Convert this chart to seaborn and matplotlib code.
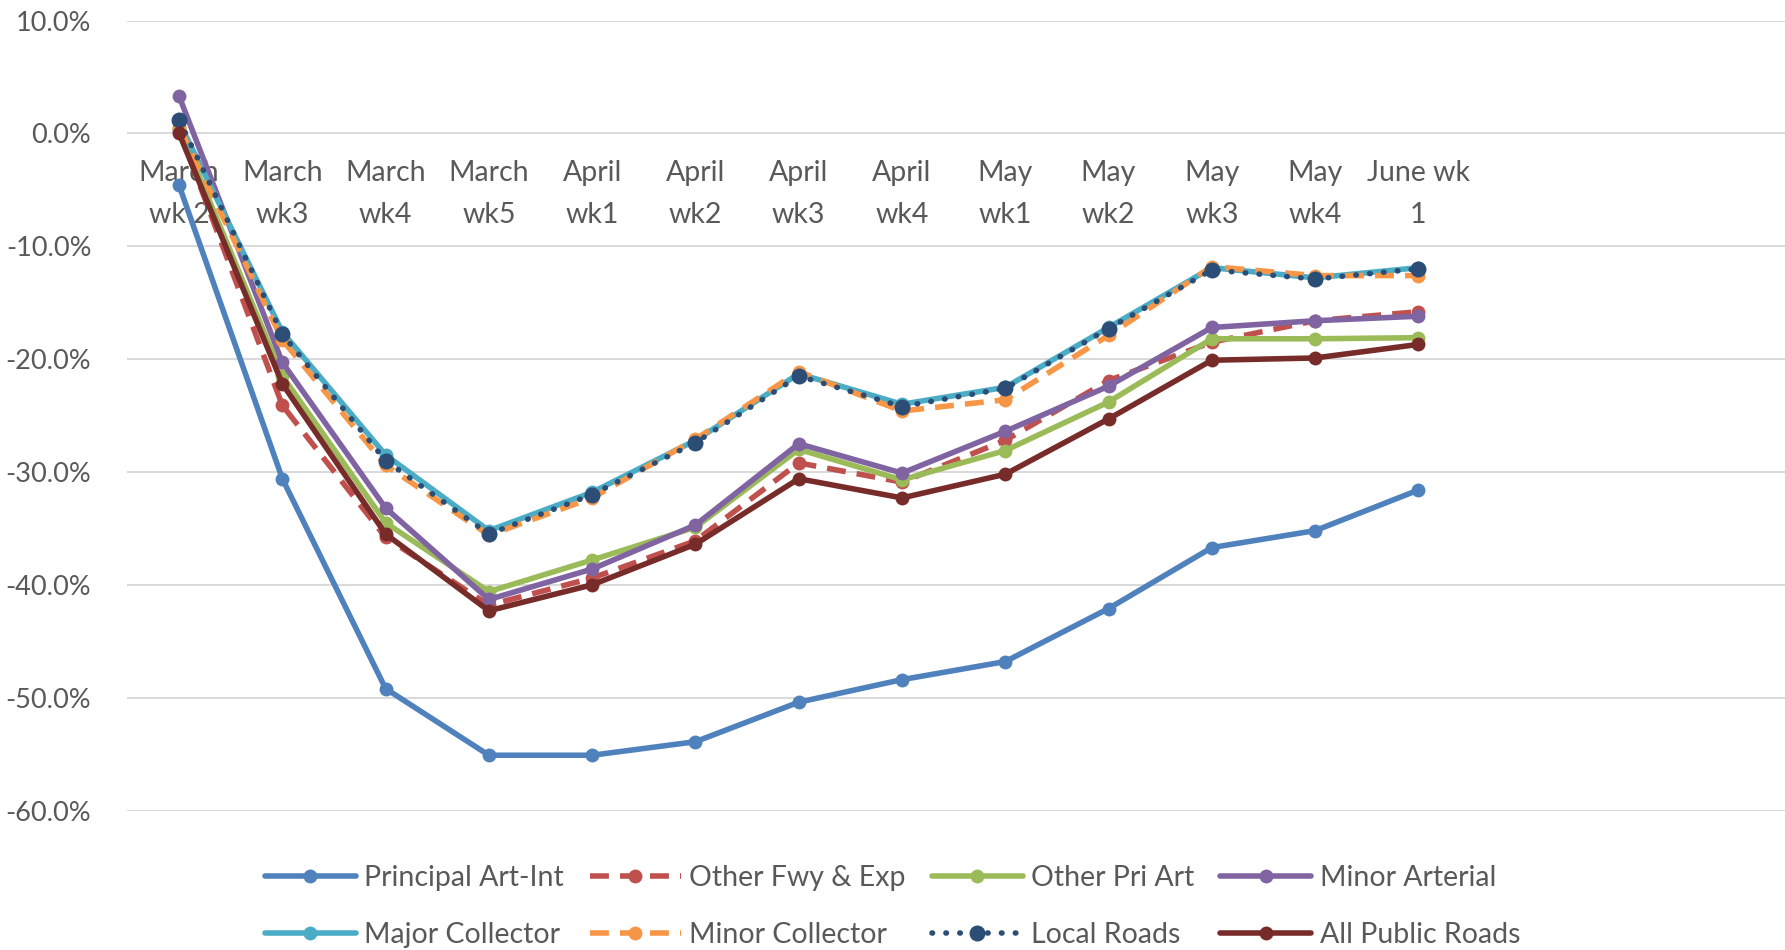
import numpy as np
import pandas as pd
import seaborn as sns
import matplotlib
matplotlib.use("Agg")
import matplotlib.pyplot as plt

# Week labels (category axis)
weeks = ["March\nwk 2", "March\nwk3", "March\nwk4", "March\nwk5",
         "April\nwk1", "April\nwk2", "April\nwk3", "April\nwk4",
         "May\nwk1", "May\nwk2", "May\nwk3", "May\nwk4", "June wk\n1"]

# Percent change in travel by road class
principal_art_int = [-4.6, -30.6, -49.2, -55.1, -55.1, -53.9, -50.4, -48.4, -46.8, -42.1, -36.7, -35.2, -31.6]
other_fwy_exp = [0.3, -24.1, -35.8, -41.8, -39.4, -36.1, -29.2, -30.9, -27.2, -21.9, -18.5, -16.6, -15.8]
other_pri_art = [0.5, -21.5, -34.5, -40.6, -37.8, -34.9, -28.0, -30.7, -28.1, -23.8, -18.2, -18.2, -18.1]
minor_arterial = [3.3, -20.3, -33.2, -41.3, -38.6, -34.7, -27.5, -30.1, -26.4, -22.4, -17.2, -16.6, -16.2]
major_collector = [1.0, -17.6, -28.5, -35.2, -31.8, -27.2, -21.3, -24.0, -22.5, -17.2, -11.9, -12.8, -11.9]
minor_collector = [0.6, -18.3, -29.4, -35.6, -32.3, -27.1, -21.1, -24.6, -23.6, -17.9, -11.8, -12.6, -12.6]
local_roads = [1.2, -17.8, -29.0, -35.5, -32.0, -27.4, -21.5, -24.2, -22.6, -17.3, -12.1, -12.9, -12.0]
all_public_roads = [0.0, -22.2, -35.5, -42.3, -40.0, -36.4, -30.6, -32.3, -30.2, -25.3, -20.1, -19.9, -18.7]

y_ticks = [10, 0, -10, -20, -30, -40, -50, -60]
y_tick_labels = ["10.0%", "0.0%", "-10.0%", "-20.0%", "-30.0%", "-40.0%", "-50.0%", "-60.0%"]

sns.set_theme(style="white")
plt.rcParams["font.family"] = ["Lato", "DejaVu Sans"]

dash = (0, (3.4, 2.0))
series = [
    ("Principal Art-Int", principal_art_int, "#4F81BD", "-", 10),
    ("Other Fwy & Exp", other_fwy_exp, "#C0504D", dash, 10),
    ("Other Pri Art", other_pri_art, "#9BBB59", "-", 10),
    ("Minor Arterial", minor_arterial, "#8064A2", "-", 10),
    ("Major Collector", major_collector, "#4BACC6", "-", 10),
    ("Minor Collector", minor_collector, "#F79646", dash, 10),
    ("Local Roads", local_roads, "#2C4D75", (0, (0.1, 2.4)), 11.5),
    ("All Public Roads", all_public_roads, "#772C2A", "-", 10),
]

fig = plt.figure(figsize=(17.85, 9.5), dpi=100)
ax = fig.add_axes([0.0714, 0.1468, 0.9286, 0.8316])

xs = np.arange(len(weeks))
handles = {}
for name, vals, color, ls, ms in series:
    df = pd.DataFrame({"x": xs, "y": vals})
    sns.lineplot(data=df, x="x", y="y", ax=ax, color=color, linewidth=4.0,
                 marker="o", markersize=ms, markeredgewidth=0, label=name)
    line = ax.get_lines()[-1]
    line.set_linestyle(ls)
    if name == "Local Roads":
        line.set_dash_capstyle("round")
    handles[name] = line

ax.set_xlim(-0.5, 15.55)
ax.set_ylim(-60, 10)
ax.set_yticks(y_ticks)
ax.set_yticklabels(y_tick_labels)
ax.set_xticks(xs)
ax.set_xticklabels(weeks)
ax.set_xlabel("")
ax.set_ylabel("")

ax.grid(axis="y", color="#D9D9D9", linewidth=1.4)
ax.grid(axis="x", visible=False)
ax.set_axisbelow(True)
for s in ax.spines.values():
    s.set_visible(False)
ax.spines["bottom"].set_position(("data", 0))
ax.tick_params(axis="x", length=0, pad=19, labelsize=20.5, labelcolor="#595959")
ax.tick_params(axis="y", length=0, pad=26, labelsize=19.5, labelcolor="#595959")
for t in ax.get_xticklabels():
    t.set_linespacing(1.75)

ax.get_legend().remove()
order = ["Principal Art-Int", "Major Collector", "Other Fwy & Exp", "Minor Collector",
         "Other Pri Art", "Local Roads", "Minor Arterial", "All Public Roads"]
leg = fig.legend([handles[n] for n in order], order, loc="center",
                 bbox_to_anchor=(0.50, 0.046), ncol=4, frameon=False,
                 fontsize=20.5, handlelength=3.2, handletextpad=0.3,
                 columnspacing=0.9, labelspacing=1.1, labelcolor="#595959")

fig.savefig("out.png", dpi=100, facecolor="white")
